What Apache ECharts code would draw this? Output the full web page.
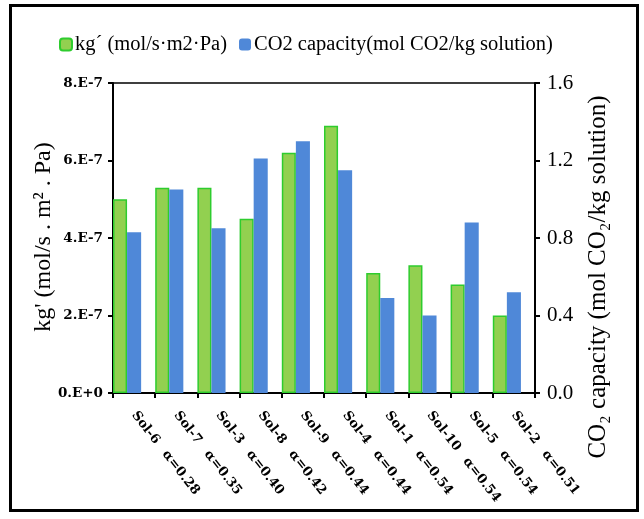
<!DOCTYPE html>
<html>
<head>
<meta charset="utf-8">
<script src="https://cdn.jsdelivr.net/npm/echarts@6/dist/echarts.min.js"></script>
<style>html,body{margin:0;padding:0;background:#fff;}#c{width:644px;height:519px;}</style>
</head>
<body>
<div id="c"></div>
<script>
const solutions = ['Sol-6','Sol-7','Sol-3','Sol-8','Sol-9','Sol-4','Sol-1','Sol-10','Sol-5','Sol-2'];
const alphas = ['α=0.28','α=0.35','α=0.40','α=0.42','α=0.44','α=0.44','α=0.54','α=0.54','α=0.54','α=0.51'];
const kgValues = [5.0e-7, 5.3e-7, 5.3e-7, 4.5e-7, 6.2e-7, 6.9e-7, 3.1e-7, 3.3e-7, 2.8e-7, 2.0e-7];
const capacityValues = [0.83, 1.05, 0.85, 1.21, 1.30, 1.15, 0.49, 0.40, 0.88, 0.52];
const leftTickLabels = ['0.E+0','2.E-7','4.E-7','6.E-7','8.E-7'];
const rightTickLabels = ['0.0','0.4','0.8','1.2','1.6'];
const spacer = [null,null,null,null,null,null,null,null,null,null];

const serif = 'Liberation Serif';
const boldFont = 'DejaVu Serif';
const chart = echarts.init(document.getElementById('c'));
chart.setOption({
  backgroundColor: '#fff',
  animation: false,
  legend: {
    data: ['kg´ (mol/s·m2·Pa)', 'CO2 capacity(mol CO2/kg solution)'],
    left: 54, top: 29, itemWidth: 12, itemHeight: 12, itemGap: 12,
    textStyle: { fontFamily: serif, fontSize: 20.5, color: '#000', padding: [0,0,0,-2] }
  },
  grid: { left: 113, right: 109, top: 83, bottom: 126, show: true, borderColor: '#000', borderWidth: 1.5 },
  xAxis: {
    type: 'category', data: solutions,
    axisLine: { lineStyle: { color: '#000', width: 2 } },
    axisTick: { show: true, length: 5, lineStyle: { color: '#000', width: 2 } },
    axisLabel: {
      interval: 0, rotate: -52, margin: 20,
      formatter: (v, i) => '{a|' + v + '}{b|' + alphas[i] + '}',
      rich: {
        a: { fontFamily: boldFont, fontWeight: 'bold', fontSize: 13, color: '#000' },
        b: { fontFamily: boldFont, fontWeight: 'bold', fontSize: 13, color: '#000', padding: [0,0,0,12] }
      }
    }
  },
  yAxis: [
    {
      type: 'value', min: 0, max: 8e-7, interval: 2e-7, position: 'left',
      splitLine: { show: false },
      axisLine: { show: true, lineStyle: { color: '#000', width: 2 } },
      axisTick: { show: true, length: 5, lineStyle: { color: '#000', width: 2 } },
      axisLabel: {
        margin: 10, fontFamily: boldFont, fontWeight: 'bold', fontSize: 13.5, color: '#000',
        formatter: v => leftTickLabels[Math.round(v / 2e-7)]
      }
    },
    {
      type: 'value', min: 0, max: 1.6, interval: 0.4, position: 'right',
      splitLine: { show: false },
      axisLine: { show: true, lineStyle: { color: '#000', width: 2 } },
      axisTick: { show: true, length: 5, lineStyle: { color: '#000', width: 2 } },
      axisLabel: {
        margin: 12, fontFamily: serif, fontSize: 21, color: '#000',
        formatter: v => rightTickLabels[Math.round(v / 0.4)]
      }
    }
  ],
  series: [
    {
      name: 'kg´ (mol/s·m2·Pa)', type: 'bar', yAxisIndex: 0, data: kgValues,
      barGap: '0%', barCategoryGap: '0%',
      itemStyle: { color: '#92d050', borderColor: '#2ecc2e', borderWidth: 1.5 }
    },
    {
      name: 'CO2 capacity(mol CO2/kg solution)', type: 'bar', yAxisIndex: 1, data: capacityValues,
      itemStyle: { color: '#4f88d8' }
    },
    {
      name: 'spacer', type: 'bar', yAxisIndex: 1, data: spacer, silent: true,
      itemStyle: { color: 'transparent' }
    }
  ],
  graphic: [
    { type: 'rect', left: 8, top: 3, shape: { width: 627, height: 505 }, style: { fill: 'none', stroke: '#000', lineWidth: 3 }, z: 100 },
    { type: 'text', x: 44, y: 237, rotation: Math.PI / 2,
      style: { text: "kg' (mol/s . m² . Pa)", font: '24px "Liberation Serif"', fill: '#000', textAlign: 'center', textVerticalAlign: 'middle' } },
    { type: 'text', x: 598, y: 277, rotation: Math.PI / 2,
      style: { text: 'CO₂ capacity (mol CO₂/kg solution)', font: '25px "Liberation Serif"', fill: '#000', textAlign: 'center', textVerticalAlign: 'middle' } }
  ]
});
</script>
</body>
</html>
